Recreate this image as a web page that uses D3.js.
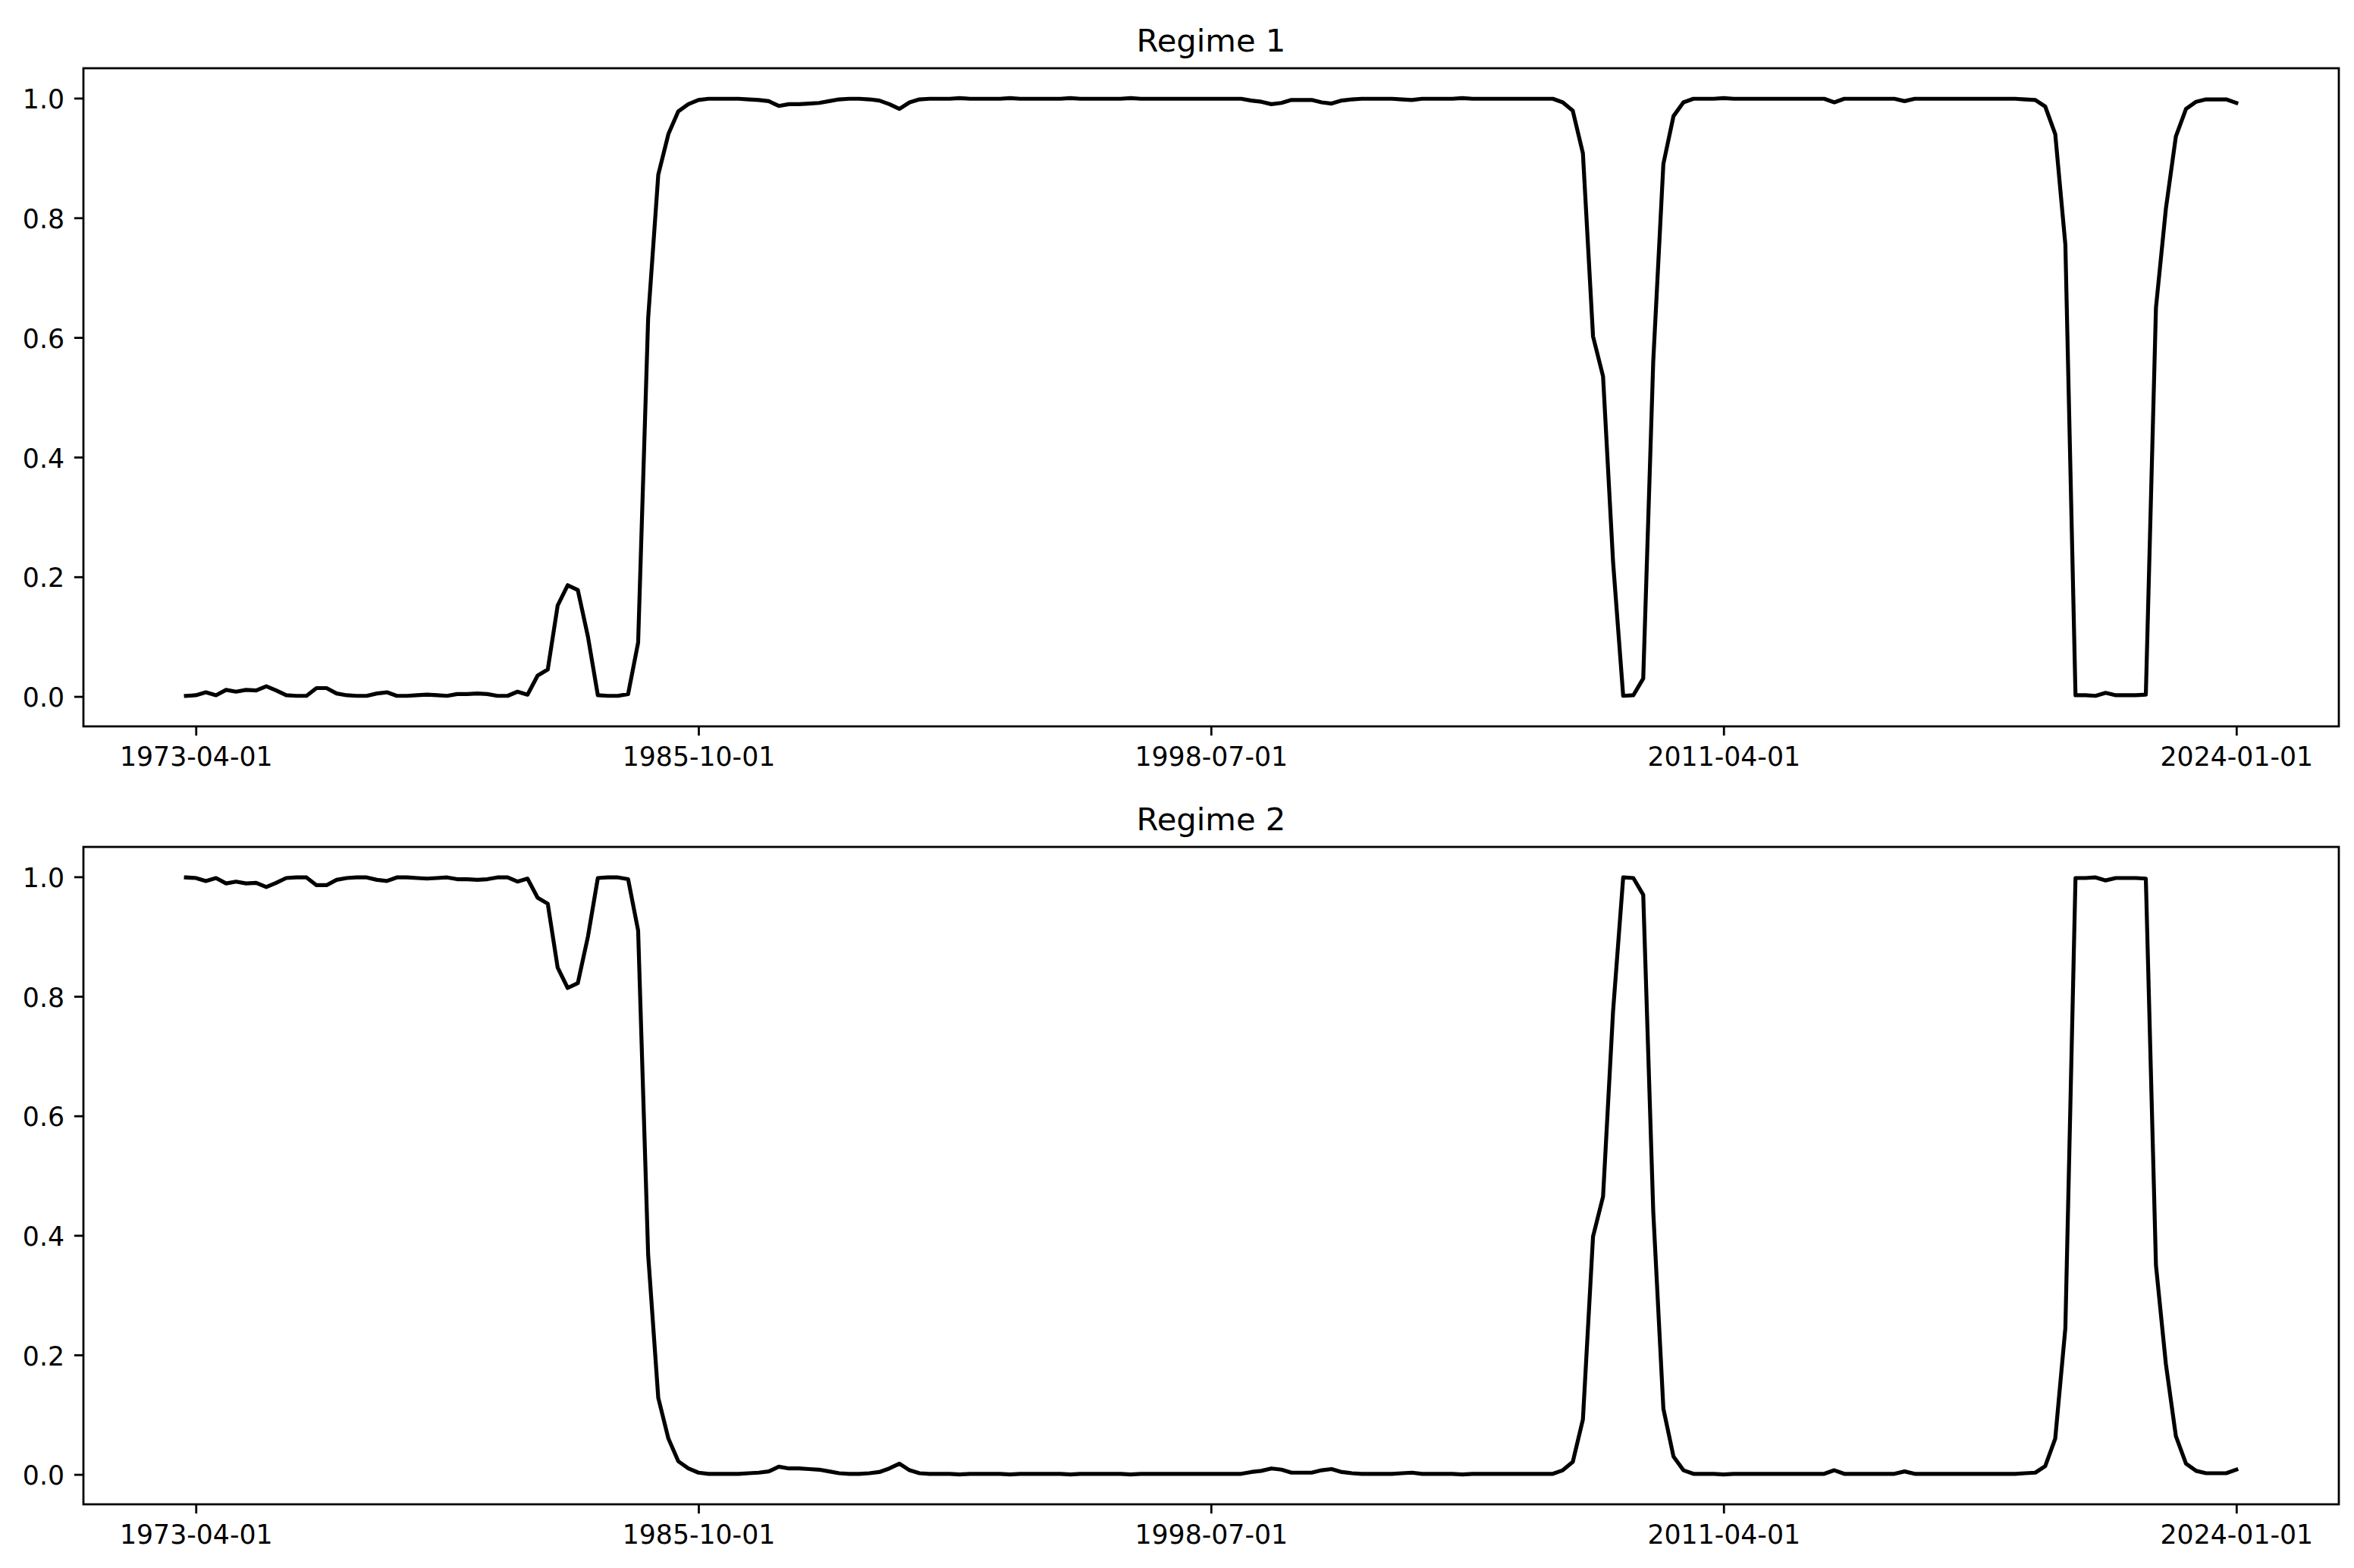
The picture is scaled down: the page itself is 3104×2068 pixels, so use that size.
<!DOCTYPE html>
<html>
<head>
<meta charset="utf-8">
<script src="https://cdn.jsdelivr.net/npm/d3@7"></script>
<style>
  html, body { margin: 0; padding: 0; background: #fff; }
  svg { display: block; }
  text { font-family: "DejaVu Sans", sans-serif; fill: #000; }
</style>
</head>
<body>
<script>
// ---- data ----
const startDate = "1973-01-01";
const endDate = "2024-01-01";
const titles = ["Regime 1", "Regime 2"];
const xTickLabels = ["1973-04-01", "1985-10-01", "1998-07-01", "2011-04-01", "2024-01-01"];
const yTickValues = [0.0, 0.2, 0.4, 0.6, 0.8, 1.0];

const regime1 = [
0.001,0.002,0.007,0.002,0.011,0.008,0.011,0.010,0.017,0.010,
0.002,0.001,0.001,0.014,0.014,0.005,0.002,0.001,0.001,0.005,
0.007,0.001,0.001,0.002,0.003,0.002,0.001,0.004,0.004,0.005,
0.004,0.001,0.001,0.008,0.003,0.035,0.045,0.152,0.186,0.178,
0.100,0.002,0.001,0.001,0.004,0.090,0.632,0.872,0.940,0.978,
0.990,0.997,0.999,0.999,0.999,0.999,0.998,0.997,0.995,0.987,
0.990,0.990,0.991,0.992,0.995,0.998,0.999,0.999,0.998,0.996,
0.990,0.982,0.993,0.998,0.999,0.999,0.999,1.000,0.999,0.999,
0.999,0.999,1.000,0.999,0.999,0.999,0.999,0.999,1.000,0.999,
0.999,0.999,0.999,0.999,1.000,0.999,0.999,0.999,0.999,0.999,
0.999,0.999,0.999,0.999,0.999,0.999,0.996,0.994,0.990,0.992,
0.997,0.997,0.997,0.993,0.991,0.996,0.998,0.999,0.999,0.999,
0.999,0.998,0.997,0.999,0.999,0.999,0.999,1.000,0.999,0.999,
0.999,0.999,0.999,0.999,0.999,0.999,0.999,0.993,0.979,0.908,
0.602,0.535,0.225,0.001,0.002,0.030,0.560,0.890,0.970,0.993,
0.999,0.999,0.999,1.000,0.999,0.999,0.999,0.999,0.999,0.999,
0.999,0.999,0.999,0.999,0.993,0.999,0.999,0.999,0.999,0.999,
0.999,0.995,0.999,0.999,0.999,0.999,0.999,0.999,0.999,0.999,
0.999,0.999,0.999,0.998,0.997,0.986,0.940,0.755,0.002,0.002,
0.001,0.006,0.002,0.002,0.002,0.003,0.650,0.815,0.936,0.982,
0.994,0.998,0.998,0.998,0.992
];

const regime2 = [
0.999,0.998,0.993,0.998,0.989,0.992,0.989,0.990,0.983,0.990,
0.998,0.999,0.999,0.986,0.986,0.995,0.998,0.999,0.999,0.995,
0.993,0.999,0.999,0.998,0.997,0.998,0.999,0.996,0.996,0.995,
0.996,0.999,0.999,0.992,0.997,0.965,0.955,0.848,0.814,0.822,
0.900,0.998,0.999,0.999,0.996,0.910,0.368,0.128,0.060,0.022,
0.010,0.003,0.001,0.001,0.001,0.001,0.002,0.003,0.005,0.013,
0.010,0.010,0.009,0.008,0.005,0.002,0.001,0.001,0.002,0.004,
0.010,0.018,0.007,0.002,0.001,0.001,0.001,0.000,0.001,0.001,
0.001,0.001,0.000,0.001,0.001,0.001,0.001,0.001,0.000,0.001,
0.001,0.001,0.001,0.001,0.000,0.001,0.001,0.001,0.001,0.001,
0.001,0.001,0.001,0.001,0.001,0.001,0.004,0.006,0.010,0.008,
0.003,0.003,0.003,0.007,0.009,0.004,0.002,0.001,0.001,0.001,
0.001,0.002,0.003,0.001,0.001,0.001,0.001,0.000,0.001,0.001,
0.001,0.001,0.001,0.001,0.001,0.001,0.001,0.007,0.021,0.092,
0.398,0.465,0.775,0.999,0.998,0.970,0.440,0.110,0.030,0.007,
0.001,0.001,0.001,0.000,0.001,0.001,0.001,0.001,0.001,0.001,
0.001,0.001,0.001,0.001,0.007,0.001,0.001,0.001,0.001,0.001,
0.001,0.005,0.001,0.001,0.001,0.001,0.001,0.001,0.001,0.001,
0.001,0.001,0.001,0.002,0.003,0.014,0.060,0.245,0.998,0.998,
0.999,0.994,0.998,0.998,0.998,0.997,0.350,0.185,0.064,0.018,
0.006,0.002,0.002,0.002,0.008
];

// ---- layout ----
const W = 3104, H = 2068;
const parse = d3.utcParse("%Y-%m-%d");
const fmt = d3.utcFormat("%Y-%m-%d");
const t0 = parse(startDate), t1 = parse(endDate);
const dates = d3.utcMonth.every(3).range(t0, new Date(t1.getTime() + 86400000));

const panels = [
  { title: titles[0], values: regime1, top: 90, bottom: 958 },
  { title: titles[1], values: regime2, top: 1117, bottom: 1984 }
];
const left = 110, right = 3084;
const tickLen = 12.15, lw = 2.78;

const svg = d3.select("body").append("svg").attr("width", W).attr("height", H);
svg.append("rect").attr("width", W).attr("height", H).attr("fill", "#fff");

const span = t1 - t0;
const x = d3.scaleUtc()
  .domain([new Date(+t0 - 0.05 * span), new Date(+t1 + 0.05 * span)])
  .range([left, right]);

panels.forEach(p => {
  const y = d3.scaleLinear().domain([-0.05, 1.05]).range([p.bottom, p.top]);
  const g = svg.append("g");

  // line
  const line = d3.line().x((d, i) => x(dates[i])).y(d => y(d));
  g.append("path")
    .datum(p.values)
    .attr("d", line)
    .attr("fill", "none")
    .attr("stroke", "#000")
    .attr("stroke-width", 5.2)
    .attr("stroke-linejoin", "round")
    .attr("stroke-linecap", "square");

  // x axis
  const xa = g.append("g").attr("transform", `translate(0,${p.bottom})`)
    .call(d3.axisBottom(x).tickValues(xTickLabels.map(parse)).tickFormat(fmt)
      .tickSize(tickLen).tickSizeOuter(0).tickPadding(12));
  xa.select(".domain").remove();
  xa.selectAll(".tick line").attr("stroke", "#000").attr("stroke-width", lw);
  xa.selectAll(".tick text").attr("y", 52).attr("dy", 0)
    .style("font-size", "34.7px").style("font-family", "DejaVu Sans");

  // y axis
  const ya = g.append("g").attr("transform", `translate(${left},0)`)
    .call(d3.axisLeft(y).tickValues(yTickValues).tickFormat(d3.format(".1f"))
      .tickSize(tickLen).tickSizeOuter(0).tickPadding(12));
  ya.select(".domain").remove();
  ya.selectAll(".tick line").attr("stroke", "#000").attr("stroke-width", lw);
  ya.selectAll(".tick text").attr("x", -25).attr("dy", "0.38em")
    .style("font-size", "34.7px").style("font-family", "DejaVu Sans");

  // spines
  g.append("rect")
    .attr("x", left).attr("y", p.top)
    .attr("width", right - left).attr("height", p.bottom - p.top)
    .attr("fill", "none").attr("stroke", "#000").attr("stroke-width", lw);

  // title
  g.append("text")
    .attr("x", (left + right) / 2).attr("y", p.top - 22)
    .attr("text-anchor", "middle")
    .style("font-size", "41.7px")
    .text(p.title);
});
</script>
</body>
</html>
